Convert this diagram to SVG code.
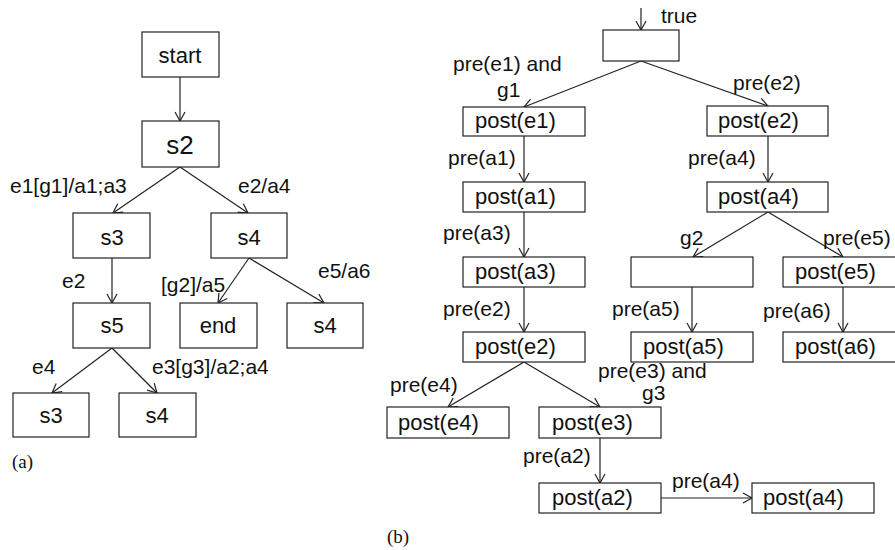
<svg xmlns="http://www.w3.org/2000/svg" width="895" height="550" viewBox="0 0 895 550">
<style>
.b{fill:#fff;stroke:#222;stroke-width:1.2}
.t{font-family:"Liberation Sans",Arial,sans-serif;font-size:21px;fill:#111}
.c{text-anchor:middle}
.s{font-family:"Liberation Serif","Times New Roman",serif;font-size:19px;fill:#111}
.e{fill:none;stroke:#222;stroke-width:1.2;marker-end:url(#ah)}
</style>
<defs>
<marker id="ah" markerUnits="userSpaceOnUse" markerWidth="20" markerHeight="20" viewBox="-10 -10 20 20" refX="0" refY="0" orient="auto">
<path d="M-9,-5 L0,0 L-9,5" fill="none" stroke="#222" stroke-width="1.2"/>
</marker>
</defs>
<rect width="895" height="550" fill="#fff"/>
<g id="connectors">
<line class="e" x1="180" y1="77" x2="180" y2="121"/>
<line class="e" x1="180" y1="167" x2="113" y2="213"/>
<line class="e" x1="180" y1="167" x2="248" y2="213"/>
<line class="e" x1="112" y1="258" x2="112" y2="303"/>
<line class="e" x1="249" y1="258" x2="218" y2="303"/>
<line class="e" x1="249" y1="258" x2="324" y2="303"/>
<line class="e" x1="112" y1="348" x2="52" y2="393"/>
<line class="e" x1="112" y1="348" x2="157" y2="393"/>
<line class="e" x1="641" y1="8" x2="641" y2="30"/>
<line class="e" x1="641" y1="61" x2="524" y2="107"/>
<line class="e" x1="641" y1="61" x2="768" y2="106"/>
<line class="e" x1="524" y1="136" x2="524" y2="182"/>
<line class="e" x1="524" y1="212" x2="524" y2="257"/>
<line class="e" x1="524" y1="287" x2="524" y2="332"/>
<line class="e" x1="524" y1="362" x2="448" y2="407"/>
<line class="e" x1="524" y1="362" x2="600" y2="407"/>
<line class="e" x1="600" y1="438" x2="600" y2="483"/>
<line class="e" x1="661" y1="498" x2="752" y2="498"/>
<line class="e" x1="768" y1="136" x2="768" y2="182"/>
<line class="e" x1="768" y1="212" x2="693" y2="257"/>
<line class="e" x1="768" y1="212" x2="843" y2="257"/>
<line class="e" x1="692" y1="287" x2="692" y2="332"/>
<line class="e" x1="843" y1="287" x2="843" y2="332"/>
</g>
<g id="labels">
<text class="t" x="10" y="193">e1[g1]/a1;a3</text>
<text class="t" x="238" y="193">e2/a4</text>
<text class="t" x="62" y="288">e2</text>
<text class="t" x="161" y="292">[g2]/a5</text>
<text class="t" x="318" y="278">e5/a6</text>
<text class="t" x="32" y="374">e4</text>
<text class="t" x="152" y="374">e3[g3]/a2;a4</text>
<text class="s" x="12" y="468">(a)</text>
<text class="t" x="661" y="23">true</text>
<text class="t" x="453" y="71">pre(e1) and</text>
<text class="t" x="497" y="97">g1</text>
<text class="t" x="733" y="90">pre(e2)</text>
<text class="t" x="448" y="165">pre(a1)</text>
<text class="t" x="688" y="165">pre(a4)</text>
<text class="t" x="443" y="240">pre(a3)</text>
<text class="t" x="680" y="245">g2</text>
<text class="t" x="823" y="245">pre(e5)</text>
<text class="t" x="443" y="316">pre(e2)</text>
<text class="t" x="612" y="316">pre(a5)</text>
<text class="t" x="763" y="318">pre(a6)</text>
<text class="t" x="390" y="392">pre(e4)</text>
<text class="t" x="598" y="378">pre(e3) and</text>
<text class="t" x="642" y="400">g3</text>
<text class="t" x="523" y="463">pre(a2)</text>
<text class="t" x="672" y="488">pre(a4)</text>
<text class="s" x="387" y="543">(b)</text>
</g>
<g id="n_start"><rect class="b" x="142" y="32" width="77" height="45"/><text class="t c" x="180" y="63" style="font-size:22px">start</text></g>
<g id="n_s2"><rect class="b" x="142" y="121" width="77" height="46"/><text class="t c" x="180" y="154" style="font-size:26px">s2</text></g>
<g id="n_s3a"><rect class="b" x="73" y="213" width="77" height="45"/><text class="t c" x="112" y="245" style="font-size:22px">s3</text></g>
<g id="n_s4a"><rect class="b" x="211" y="213" width="76" height="45"/><text class="t c" x="249" y="245" style="font-size:22px">s4</text></g>
<g id="n_s5"><rect class="b" x="73" y="303" width="77" height="45"/><text class="t c" x="112" y="333" style="font-size:22px">s5</text></g>
<g id="n_end"><rect class="b" x="180" y="303" width="77" height="45"/><text class="t c" x="218" y="333" style="font-size:22px">end</text></g>
<g id="n_s4b"><rect class="b" x="287" y="303" width="76" height="45"/><text class="t c" x="325" y="333" style="font-size:22px">s4</text></g>
<g id="n_s3c"><rect class="b" x="13" y="393" width="76" height="44"/><text class="t c" x="51" y="423" style="font-size:22px">s3</text></g>
<g id="n_s4c"><rect class="b" x="119" y="393" width="77" height="44"/><text class="t c" x="157" y="423" style="font-size:22px">s4</text></g>
<g id="n_top"><rect class="b" x="603" y="30" width="76" height="31"/></g>
<g id="n_post_e1"><rect class="b" x="463" y="107" width="122" height="29"/><text class="t" x="475" y="128" style="font-size:22px">post(e1)</text></g>
<g id="n_post_a1"><rect class="b" x="463" y="182" width="122" height="30"/><text class="t" x="475" y="204" style="font-size:22px">post(a1)</text></g>
<g id="n_post_a3"><rect class="b" x="463" y="257" width="122" height="30"/><text class="t" x="475" y="279" style="font-size:22px">post(a3)</text></g>
<g id="n_post_e2a"><rect class="b" x="463" y="332" width="122" height="30"/><text class="t" x="475" y="354" style="font-size:22px">post(e2)</text></g>
<g id="n_post_e2b"><rect class="b" x="707" y="106" width="121" height="30"/><text class="t" x="718" y="128" style="font-size:22px">post(e2)</text></g>
<g id="n_post_a4a"><rect class="b" x="707" y="182" width="121" height="30"/><text class="t" x="718" y="204" style="font-size:22px">post(a4)</text></g>
<g id="n_empty"><rect class="b" x="631" y="257" width="122" height="30"/></g>
<g id="n_post_e5"><rect class="b" x="783" y="257" width="125" height="30"/><text class="t" x="795" y="279" style="font-size:22px">post(e5)</text></g>
<g id="n_post_a5"><rect class="b" x="631" y="332" width="122" height="30"/><text class="t" x="643" y="354" style="font-size:22px">post(a5)</text></g>
<g id="n_post_a6"><rect class="b" x="783" y="332" width="125" height="30"/><text class="t" x="795" y="354" style="font-size:22px">post(a6)</text></g>
<g id="n_post_e4"><rect class="b" x="387" y="407" width="122" height="31"/><text class="t" x="398" y="430" style="font-size:22px">post(e4)</text></g>
<g id="n_post_e3"><rect class="b" x="539" y="407" width="122" height="31"/><text class="t" x="552" y="430" style="font-size:22px">post(e3)</text></g>
<g id="n_post_a2"><rect class="b" x="539" y="483" width="122" height="30"/><text class="t" x="552" y="505" style="font-size:22px">post(a2)</text></g>
<g id="n_post_a4b"><rect class="b" x="752" y="483" width="122" height="30"/><text class="t" x="763" y="505" style="font-size:22px">post(a4)</text></g>
</svg>
